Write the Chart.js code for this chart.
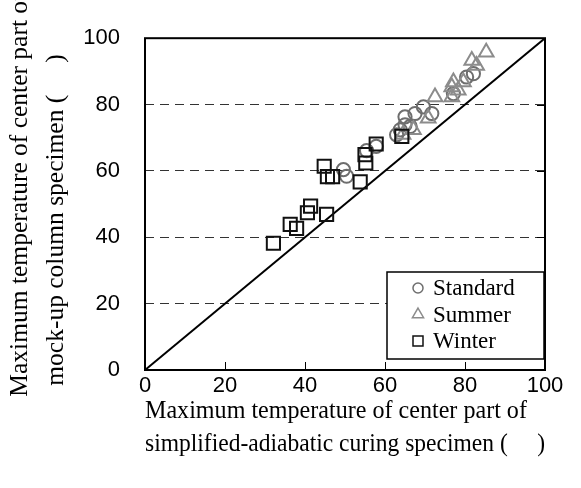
<!DOCTYPE html>
<html>
<head>
<meta charset="utf-8">
<script src="https://cdn.jsdelivr.net/npm/chart.js@4/dist/chart.umd.min.js"></script>
<style>
html,body{margin:0;padding:0;background:#fff;}
#wrap{width:581px;height:488px;}
</style>
</head>
<body>
<div id="wrap"><canvas id="c" width="581" height="488"></canvas></div>
<script>
// ---- data ----
const tickValues = [0, 20, 40, 60, 80, 100];
const seriesLabels = ['Standard', 'Summer', 'Winter'];
const standardX = [49.6, 50.4, 55.4, 57.8, 62.9, 63.8, 65.0, 65.0, 66.3, 67.5, 69.6, 71.7, 77.1, 80.4, 82.1];
const standardY = [60.4, 58.4, 66.1, 67.4, 70.9, 72.4, 73.9, 76.3, 73.4, 77.3, 79.3, 77.3, 83.3, 88.3, 89.3];
const summerX = [64.5, 67.1, 70.8, 72.5, 76.7, 76.7, 77.1, 78.3, 79.6, 82.9, 81.7, 85.3];
const summerY = [71.0, 72.4, 75.9, 82.3, 82.3, 85.3, 86.8, 84.3, 86.8, 91.8, 93.3, 95.8];
const winterX = [32.1, 36.3, 37.9, 40.6, 41.4, 45.4, 44.8, 45.6, 46.9, 53.8, 55.0, 55.2, 57.8, 64.2];
const winterY = [38.2, 43.9, 42.7, 47.4, 49.4, 46.9, 61.4, 58.3, 58.3, 56.7, 64.9, 62.4, 68.1, 70.4];
const lineX = [0, 100];
const lineY = [0, 100];
const xTitle = ['Maximum temperature of center part of   ', 'simplified-adiabatic curing specimen (     )'];
const yTitle = ['   Maximum temperature of center part of', 'mock-up column specimen (     )     '];

const pts = (xs, ys) => xs.map((x, i) => ({x: x, y: ys[i]}));

const styles = {
  Standard: {pointStyle: 'circle', r: 6.6, color: '#6e6e6e'},
  Summer: {pointStyle: 'triangle', r: 8.5, color: '#8c8c8c'},
  Winter: {pointStyle: 'rect', r: 9.3, color: '#111111'}
};

const framePlugin = {
  id: 'frame',
  afterDraw(chart) {
    const ctx = chart.ctx, a = chart.chartArea;
    const xs = chart.scales.x, ys = chart.scales.y;
    ctx.save();
    ctx.strokeStyle = '#000';
    ctx.lineWidth = 1;
    // inward ticks
    ctx.beginPath();
    tickValues.slice(1, -1).forEach(v => {
      const px = Math.round(xs.getPixelForValue(v)) + 0.5;
      ctx.moveTo(px, a.bottom); ctx.lineTo(px, a.bottom - 8);
      const py = Math.round(ys.getPixelForValue(v)) + 0.5;
      ctx.moveTo(a.right, py); ctx.lineTo(a.right - 8, py);
    });
    ctx.stroke();
    // frame
    ctx.lineWidth = 2;
    ctx.strokeRect(a.left, a.top, a.right - a.left, a.bottom - a.top);
    // legend
    const lx = a.right - 158, ly = a.bottom - 98, lw = 157, lh = 87;
    ctx.fillStyle = '#fff';
    ctx.fillRect(lx, ly, lw, lh);
    ctx.lineWidth = 1.5;
    ctx.strokeStyle = '#000';
    ctx.strokeRect(lx, ly, lw, lh);
    ctx.font = '23px "Liberation Serif", "Times New Roman", serif';
    ctx.textBaseline = 'middle';
    ctx.textAlign = 'left';
    seriesLabels.forEach((lab, i) => {
      const st = styles[lab];
      const cy = ly + 16 + i * 26.5;
      ctx.strokeStyle = st.color;
      ctx.fillStyle = 'rgba(0,0,0,0)';
      ctx.lineWidth = 1.5;
      Chart.helpers.drawPoint(ctx, {pointStyle: st.pointStyle, radius: st.r * 0.76, rotation: 0, borderWidth: 1.5}, lx + 31, cy);
      ctx.fillStyle = '#000';
      ctx.fillText(lab, lx + 46, cy + 1);
    });
    ctx.restore();
  }
};

const mk = (lab, xs, ys) => ({
  label: lab,
  data: pts(xs, ys),
  pointStyle: styles[lab].pointStyle,
  pointRadius: styles[lab].r,
  pointHoverRadius: styles[lab].r,
  pointBorderWidth: 2,
  borderColor: styles[lab].color,
  backgroundColor: 'rgba(0,0,0,0)',
  showLine: false
});

new Chart(document.getElementById('c'), {
  type: 'scatter',
  data: {
    datasets: [
      mk('Winter', winterX, winterY),
      mk('Summer', summerX, summerY),
      mk('Standard', standardX, standardY),
      {
        label: 'y=x',
        type: 'line',
        data: pts(lineX, lineY),
        borderColor: '#000',
        borderWidth: 2,
        pointRadius: 0,
        fill: false
      }
    ]
  },
  plugins: [framePlugin],
  options: {
    responsive: false,
    animation: false,
    layout: {padding: {top: 36, right: 36, left: 0, bottom: 0}},
    plugins: {legend: {display: false}, tooltip: {enabled: false}},
    scales: {
      x: {
        type: 'linear', min: 0, max: 100,
        afterBuildTicks: s => { s.ticks = tickValues.map(v => ({value: v})); },
        afterFit: s => { s.height = 118; },
        ticks: {color: '#000', padding: 3, font: {family: '"Liberation Sans", Arial, sans-serif', size: 22}, maxRotation: 0},
        grid: {display: false, drawTicks: false},
        border: {display: false},
        title: {display: true, text: xTitle, color: '#000', padding: {top: 0, bottom: 27}, font: {family: '"Liberation Serif", "Times New Roman", serif', size: 25.5, lineHeight: 1.3}}
      },
      y: {
        type: 'linear', min: 0, max: 100,
        afterBuildTicks: s => { s.ticks = tickValues.map(v => ({value: v})); },
        afterFit: s => { s.width = 145; },
        ticks: {color: '#000', padding: 25, font: {family: '"Liberation Sans", Arial, sans-serif', size: 22}},
        grid: {display: true, drawTicks: false, color: ctx => (ctx.tick && (ctx.tick.value === 0 || ctx.tick.value === 100)) ? 'rgba(0,0,0,0)' : '#333', lineWidth: 1},
        border: {display: false, dash: [9, 6]},
        title: {display: true, text: yTitle, color: '#000', padding: {top: 2, bottom: 0}, font: {family: '"Liberation Serif", "Times New Roman", serif', size: 25.5, lineHeight: 1.41}}
      }
    }
  }
});
</script>
</body>
</html>
